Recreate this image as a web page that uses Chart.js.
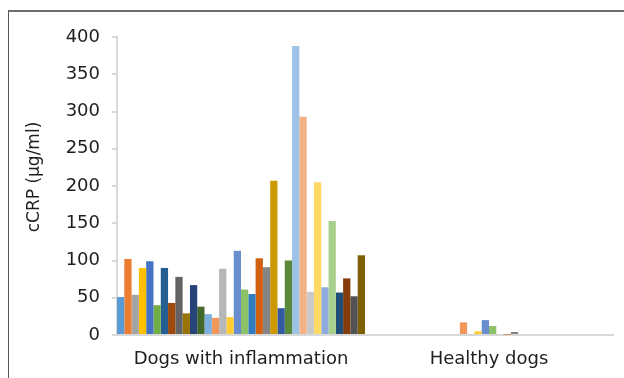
<!DOCTYPE html>
<html>
<head>
<meta charset="utf-8">
<title>cCRP in dogs</title>
<script src="https://cdn.jsdelivr.net/npm/chart.js@4.4.1/dist/chart.umd.min.js"></script>
<style>
  html, body { margin: 0; padding: 0; background: #ffffff; }
  #wrap { position: relative; width: 624px; height: 378px; overflow: hidden; }
  #frame {
    position: absolute; left: 8px; top: 10px; width: 700px; height: 400px;
    border-top: 2px solid #6e6e6e; border-left: 1px solid #555555;
    box-sizing: border-box; pointer-events: none;
  }
  canvas { position: absolute; left: 0; top: 0; }
</style>
</head>
<body>
<div id="wrap">
  <canvas id="chart" width="624" height="378"></canvas>
  <div id="frame"></div>
</div>
<script>
// Groups on the x axis
const categories = ['Dogs with inflammation', 'Healthy dogs'];

// cCRP (µg/ml) per individual dog, one series per dog
const inflamedValues = [
  51, 102, 54, 90, 99, 40, 90, 43, 78, 29, 67, 38, 28, 23, 89, 24, 113,
  61, 55, 103, 91, 207, 36, 100, 388, 293, 58, 205, 64, 153, 57, 76, 52, 107
];
const healthyValues = [
  0, 0, 0, 0, 0, 0, 0, 0, 0, 0, 0, 0, 0, 17, 1, 5, 20,
  12, 0, 0.6, 4, 0, 0, 0, 0, 0, 0, 0, 0, 0, 0, 0, 0, 0
];

// Value axis ticks
const yTicks = [0, 50, 100, 150, 200, 250, 300, 350, 400];

// Bar fill colours, one per series
const seriesColors = [
  '#5B9BD5', '#ED7D31', '#A5A5A5', '#FFC000', '#4472C4', '#70AD47',
  '#255E91', '#9E480E', '#636363', '#997300', '#264478', '#43682B',
  '#7CAFDD', '#F1975A', '#B7B7B7', '#FFCD33', '#698ED0', '#8CC168',
  '#327DC2', '#D26012', '#848484', '#CC9A00', '#335AA1', '#5A8A39',
  '#9DC3E6', '#F4B183', '#C9C9C9', '#FFD966', '#8FAADC', '#A9D18E',
  '#1F4E79', '#843C0C', '#525252', '#7F6000'
];

const FONT = '"DejaVu Sans", sans-serif';
const TEXT = '#1e1e1e';
const AXIS = '#d9d9d9';

const datasets = inflamedValues.map((v, i) => ({
  label: 'Dog ' + (i + 1),
  data: [v, healthyValues[i]],
  backgroundColor: seriesColors[i],
  borderWidth: 0,
  inflateAmount: 0,
  barPercentage: 1.0,
  categoryPercentage: 1.0
}));

// Rotated y-axis title
const yTitle = {
  id: 'yTitle',
  afterDraw(chart) {
    const ctx = chart.ctx;
    ctx.save();
    ctx.translate(35, 177);
    ctx.rotate(-Math.PI / 2);
    ctx.font = '17px ' + FONT;
    ctx.fillStyle = TEXT;
    ctx.textAlign = 'center';
    ctx.textBaseline = 'middle';
    ctx.fillText('cCRP (µg/ml)', 0, 0);
    ctx.restore();
  }
};

new Chart(document.getElementById('chart'), {
  type: 'bar',
  data: { labels: categories, datasets },
  options: {
    responsive: false,
    animation: false,
    layout: { padding: { top: 37, right: 11, left: 0, bottom: 0 } },
    plugins: { legend: { display: false }, tooltip: { enabled: false } },
    scales: {
      x: {
        grid: { display: false, drawTicks: false },
        border: { display: true, color: AXIS, width: 2 },
        ticks: { color: TEXT, font: { family: FONT, size: 18 }, padding: 14 },
        afterFit(scale) { scale.height = 43; }
      },
      y: {
        min: 0, max: 400,
        afterBuildTicks(scale) { scale.ticks = yTicks.map(v => ({ value: v })); },
        grid: { drawOnChartArea: false, drawTicks: true, tickLength: 5, color: AXIS, lineWidth: 2 },
        border: { display: true, color: AXIS, width: 2 },
        ticks: { color: TEXT, font: { family: FONT, size: 18 }, padding: 12 },
        afterFit(scale) { scale.width = 117; }
      }
    }
  },
  plugins: [yTitle]
});
</script>
</body>
</html>
